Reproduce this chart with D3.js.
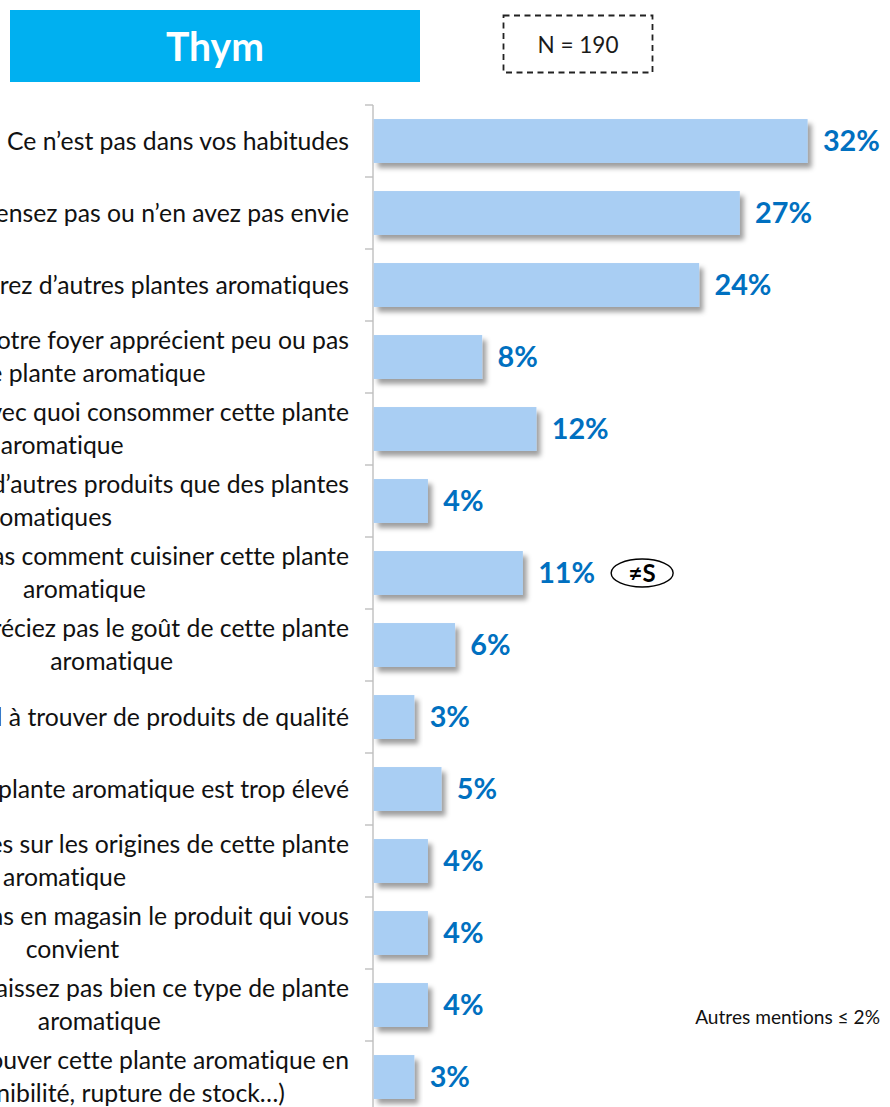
<!DOCTYPE html>
<html>
<head>
<meta charset="utf-8">
<script src="https://cdn.jsdelivr.net/npm/d3@7"></script>
<style>
  body { margin: 0; background: #fff; }
  svg { display: block; }
  svg text { font-variant-ligatures: none; font-feature-settings: "liga" 0, "clig" 0; }
</style>
</head>
<body>
<svg id="chart" width="890" height="1107"></svg>
<script>
// ---- data ----
const title = "Thym";
const sampleSize = "N = 190";
const categories = [
  ["Ce n’est pas dans vos habitudes"],
  ["Vous n’y pensez pas ou n’en avez pas envie"],
  ["Vous préférez d’autres plantes aromatiques"],
  ["Les membres de votre foyer apprécient peu ou pas", "cette plante aromatique"],
  ["Vous ne savez pas avec quoi consommer cette plante", "aromatique"],
  ["Vous assaisonnez avec d’autres produits que des plantes", "aromatiques"],
  ["Vous ne savez pas comment cuisiner cette plante", "aromatique"],
  ["Vous n’appréciez pas le goût de cette plante", "aromatique"],
  ["Vous avez du mal à trouver de produits de qualité"],
  ["Le prix de cette plante aromatique est trop élevé"],
  ["Vous avez des doutes sur les origines de cette plante", "aromatique"],
  ["Vous ne trouvez pas en magasin le produit qui vous", "convient"],
  ["Vous ne connaissez pas bien ce type de plante", "aromatique"],
  ["Vous n’arrivez pas à trouver cette plante aromatique en", "magasin (indisponibilité, rupture de stock…)"]
];
const values = [32, 27, 24, 8, 12, 4, 11, 6, 3, 5, 4, 4, 4, 3];
const significance = ["", "", "", "", "", "", "≠S", "", "", "", "", "", "", ""];
const footnote = "Autres mentions ≤ 2%";

// ---- layout ----
const svg = d3.select("#chart");
const FONT = "Lato, 'Open Sans', sans-serif";
const axisX = 373;
const labelRight = 349;

// measure text width at 100px to derive font sizes for a target width
function fitSize(text, weight, target) {
  const t = svg.append("text").attr("font-family", FONT)
    .attr("font-weight", weight).attr("font-size", 100).text(text);
  const w = t.node().getComputedTextLength();
  t.remove();
  return 100 * target / w;
}
const catSize = fitSize(categories[0][0], 400, 342);
const valSize = fitSize("32%", 700, 57);
const lineH = 32.6;

const defs = svg.append("defs");
const shadow = defs.append("filter").attr("id", "barShadow")
  .attr("x", "-10%").attr("y", "-20%").attr("width", "130%").attr("height", "160%");
shadow.append("feDropShadow").attr("dx", 4).attr("dy", 5)
  .attr("stdDeviation", 2.6).attr("flood-color", "#000").attr("flood-opacity", 0.38);

// scales
const y = d3.scaleBand()
  .domain(d3.range(categories.length))
  .range([105, 105 + 72 * categories.length])
  .paddingInner(0.39)
  .paddingOuter(0.195);
const x = d3.scaleLinear().domain([0, 35]).range([0, 474.6]);

// title banner
svg.append("rect").attr("x", 10).attr("y", 10).attr("width", 410).attr("height", 72)
  .attr("fill", "#00B0F0");
svg.append("text").attr("x", 215).attr("y", 47).attr("dy", "0.36em")
  .attr("text-anchor", "middle").attr("fill", "#fff")
  .attr("font-family", FONT).attr("font-weight", 700)
  .attr("font-size", fitSize(title, 700, 98)).text(title);

// sample size box
svg.append("rect").attr("x", 503.5).attr("y", 15.5).attr("width", 149).attr("height", 57)
  .attr("fill", "none").attr("stroke", "#222").attr("stroke-width", 1.8)
  .attr("stroke-dasharray", "6,4.5");
svg.append("text").attr("x", 578).attr("y", 45).attr("dy", "0.36em")
  .attr("text-anchor", "middle").attr("fill", "#1a1a1a")
  .attr("font-family", FONT).attr("font-weight", 400)
  .attr("font-size", fitSize(sampleSize, 400, 81)).text(sampleSize);

// category axis line and boundary ticks
const bounds = d3.range(categories.length + 1).map(i => y.range()[0] + i * y.step());
svg.append("line").attr("x1", axisX).attr("x2", axisX)
  .attr("y1", bounds[0]).attr("y2", bounds[bounds.length - 1])
  .attr("stroke", "#BFBFBF").attr("stroke-width", 1.4);
svg.selectAll("line.tick").data(bounds).join("line").attr("class", "tick")
  .attr("x1", axisX - 8).attr("x2", axisX)
  .attr("y1", d => d).attr("y2", d => d)
  .attr("stroke", "#BFBFBF").attr("stroke-width", 1.4);

// bars
svg.append("g").selectAll("rect").data(values).join("rect")
  .attr("x", axisX + 0.7)
  .attr("y", (d, i) => y(i))
  .attr("width", d => x(d))
  .attr("height", y.bandwidth())
  .attr("fill", "#A9CEF3")
  .attr("filter", "url(#barShadow)");

// value labels
const valLabels = svg.append("g").selectAll("text").data(values).join("text")
  .attr("x", d => axisX + x(d) + 16)
  .attr("y", (d, i) => y(i) + y.bandwidth() / 2)
  .attr("dy", "0.36em")
  .attr("fill", "#0070C0")
  .attr("font-family", FONT).attr("font-weight", 700)
  .attr("font-size", valSize)
  .text(d => d + "%");

// significance markers next to value labels
valLabels.each(function(d, i) {
  if (!significance[i]) return;
  const end = axisX + x(d) + 16 + this.getComputedTextLength();
  const cx = end + 16 + 31, cy = y(i) + y.bandwidth() / 2;
  svg.append("ellipse").attr("cx", cx).attr("cy", cy).attr("rx", 31).attr("ry", 14)
    .attr("fill", "#fff").attr("stroke", "#000").attr("stroke-width", 1.4);
  svg.append("text").attr("x", cx).attr("y", cy).attr("dy", "0.36em")
    .attr("text-anchor", "middle").attr("font-family", FONT).attr("font-weight", 700)
    .attr("font-size", 24).attr("fill", "#000").text(significance[i]);
});

// category labels: lines centred on each other, block right-aligned to the axis
const catG = svg.append("g").attr("font-family", FONT).attr("font-size", catSize).attr("fill", "#111");
categories.forEach((lines, i) => {
  const t = catG.append("text").attr("text-anchor", "middle");
  const spans = lines.map(l => t.append("tspan").text(l));
  const widths = spans.map(s => s.node().getComputedTextLength());
  const cx = labelRight - d3.max(widths) / 2;
  const cy = y(i) + y.bandwidth() / 2;
  spans.forEach((s, k) => {
    s.attr("x", cx).attr("y", cy + (k - (lines.length - 1) / 2) * lineH).attr("dy", "0.35em");
  });
});

// footnote
svg.append("text").attr("x", 880).attr("y", 1017).attr("dy", "0.36em")
  .attr("text-anchor", "end").attr("fill", "#111")
  .attr("font-family", FONT).attr("font-size", fitSize(footnote, 400, 185))
  .text(footnote);
</script>
</body>
</html>
